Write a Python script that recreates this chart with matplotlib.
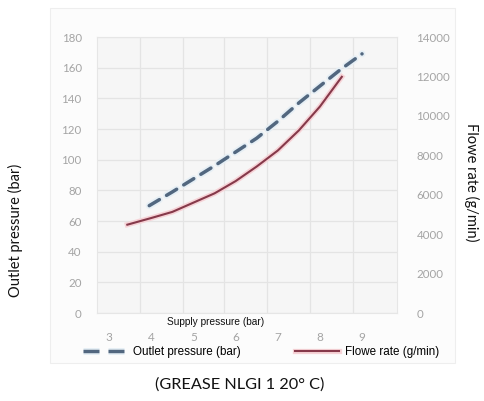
import matplotlib
matplotlib.use("Agg")
import matplotlib.pyplot as plt
from matplotlib.patches import Rectangle
import matplotlib.patheffects as pe

# ---- data ----
supply_outlet = [3.95, 4.5, 5.0, 5.5, 6.0, 6.5, 7.0, 7.5, 8.0, 8.5, 9.0]
outlet_pressure = [70, 79, 87.5, 96, 105, 114, 125, 137, 148, 159, 169]
supply_flow = [3.43, 4.0, 4.5, 5.0, 5.5, 6.0, 6.5, 7.0, 7.5, 8.0, 8.52]
flow_rate = [4480, 4820, 5130, 5600, 6070, 6690, 7430, 8240, 9260, 10470, 11980]

x_ticks = [3, 4, 5, 6, 7, 8, 9]
y_left_ticks = [0, 20, 40, 60, 80, 100, 120, 140, 160, 180]
y_right_ticks = [0, 2000, 4000, 6000, 8000, 10000, 12000, 14000]

W, H = 485, 401
fig = plt.figure(figsize=(W / 100, H / 100), dpi=100)
fig.patch.set_facecolor("white")

# chart card (background)
bg = fig.add_axes([0, 0, 1, 1], zorder=-10)
bg.set_xlim(0, 1)
bg.set_ylim(0, 1)
bg.axis("off")
bg.add_patch(Rectangle((50 / W, 1 - 363 / H), (455 - 50) / W, (363 - 8) / H,
                       facecolor="#fcfcfc", edgecolor="#eeeeee", linewidth=0.8))

ax = fig.add_axes([97 / W, 1 - 313 / H, (397 - 97) / W, (313 - 37) / H])
ax.set_facecolor("#f6f6f6")
ax.set_xlim(2.71, 9.83)
ax.set_ylim(0, 180)
ax.set_xticks(x_ticks)
ax.set_xticks([3.73, 4.75, 5.73, 6.75, 7.77, 8.78], minor=True)
ax.set_yticks(y_left_ticks)
ax.grid(True, axis="y", color="#e4e4e4", linewidth=0.9)
ax.grid(True, axis="x", which="minor", color="#e4e4e4", linewidth=0.9)
ax.set_axisbelow(True)
for s in ax.spines.values():
    s.set_color("#e6e6e6")
    s.set_linewidth(0.8)
ax.tick_params(axis="both", which="both", length=0)
ax.tick_params(axis="x", pad=14, labelsize=8.5, labelcolor="#a4a4a4")
ax.tick_params(axis="y", pad=11, labelsize=8.3, labelcolor="#a4a4a4")
for t in ax.get_xticklabels() + ax.get_yticklabels():
    t.set_family("Lato")

ax2 = ax.twinx()
ax2.set_ylim(0, 14000)
ax2.set_yticks(y_right_ticks)
ax2.tick_params(axis="y", length=0, pad=14, labelsize=8.3, labelcolor="#a4a4a4")
for t in ax2.get_yticklabels():
    t.set_family("Lato")
for s in ax2.spines.values():
    s.set_visible(False)

l1, = ax.plot(supply_outlet, outlet_pressure, color="#52677f", linewidth=2.5,
              dashes=(3.4, 2.4), dash_capstyle="round",
              label="Outlet pressure (bar)", zorder=3,
              path_effects=[pe.Stroke(linewidth=5.0, foreground="#e6eff5"), pe.Normal()])
l2, = ax2.plot(supply_flow, flow_rate, color="#86394a", linewidth=1.5,
               label="Flowe rate (g/min)", zorder=3,
               path_effects=[pe.Stroke(linewidth=3.8, foreground="#f6d3d7"), pe.Normal()])

fig.text(216 / W, 1 - 322 / H, "Supply pressure (bar)", ha="center", va="center",
         fontsize=7.3, family="Liberation Sans", color="#111111")

leg = fig.legend([l1, l2], ["Outlet pressure (bar)", "Flowe rate (g/min)"],
                 loc="center", bbox_to_anchor=(261 / W, 1 - 352 / H), ncol=2,
                 frameon=False, handlelength=3.8, handletextpad=0.5,
                 columnspacing=4.7, borderpad=0,
                 prop={"family": "Liberation Sans", "size": 8.4})
hl = leg.legend_handles[0]
hl.set_dashes((4.6, 2.6))
hl.set_dash_capstyle("butt")

fig.text(15 / W, 1 - 230 / H, "Outlet pressure (bar)", rotation=90, ha="center",
         va="center", fontsize=10.5, family="Lato", color="#111111")
fig.text(472 / W, 1 - 182 / H, "Flowe rate (g/min)", rotation=-90, ha="center",
         va="center", fontsize=10.5, family="Lato", color="#111111")
fig.text(240 / W, 1 - 385 / H, "(GREASE NLGI 1 20° C)", ha="center", va="center",
         fontsize=11.7, family="Lato", color="#111111")

fig.savefig("out.png", dpi=100)
